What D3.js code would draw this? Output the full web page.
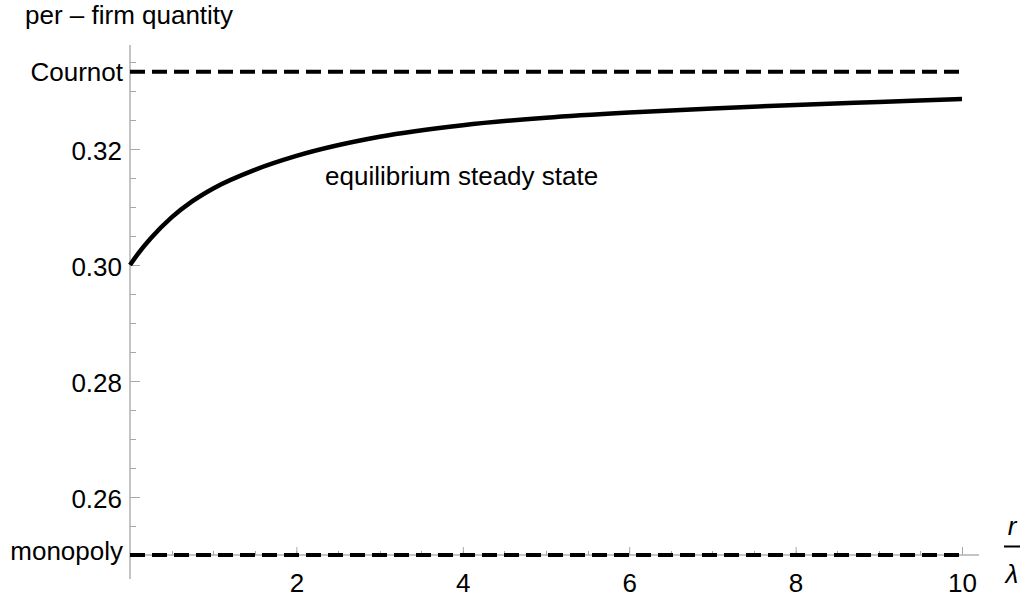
<!DOCTYPE html>
<html>
<head>
<meta charset="utf-8">
<script src="https://cdn.jsdelivr.net/npm/d3@7"></script>
<style>
  body { margin: 0; background: #fff; }
  svg { font-family: "Liberation Sans", Arial, sans-serif; }
</style>
</head>
<body>
<div id="chart"></div>
<script>
// values
const rOverLambda = [0, 0.1, 0.25, 0.5, 0.75, 1, 1.5, 2, 3, 4, 5, 6, 7, 8, 9, 10];
const steadyState = [0.3000, 0.3020, 0.3046, 0.3082, 0.3110, 0.3132, 0.3164, 0.3188, 0.3221, 0.3241, 0.3254, 0.3263, 0.3270, 0.3276, 0.3281, 0.3286];
const cournotLevel = 1 / 3;
const monopolyLevel = 0.25;
const yTickValues = [0.26, 0.28, 0.30, 0.32];
const xTickValues = [2, 4, 6, 8, 10];

const W = 1026, H = 601;
const svg = d3.select("#chart").append("svg")
  .attr("width", W).attr("height", H);

// scales: plot spans x 130..962 for 0..10, y 265 -> 0.30, 149 -> 0.32
const x = d3.scaleLinear().domain([0, 10]).range([130, 962]);
const y = d3.scaleLinear().domain([0.30, 0.32]).range([265, 149]);

const axisColor = "#8a8a8a";
const tickColor = "#a8a8a8";

// y axis line
svg.append("line")
  .attr("x1", x(0)).attr("x2", x(0))
  .attr("y1", 45).attr("y2", 579)
  .attr("stroke", axisColor).attr("stroke-width", 1);

// x axis line at monopoly level
svg.append("line")
  .attr("x1", x(0)).attr("x2", 979)
  .attr("y1", y(monopolyLevel)).attr("y2", y(monopolyLevel))
  .attr("stroke", axisColor).attr("stroke-width", 1);

// minor ticks
const yMinor = d3.range(0.25, 0.3376, 0.005);
svg.append("g").selectAll("line")
  .data(yMinor)
  .join("line")
  .attr("x1", x(0)).attr("x2", x(0) + 6)
  .attr("y1", d => Math.round(y(d)) + 0.5).attr("y2", d => Math.round(y(d)) + 0.5)
  .attr("stroke", tickColor);

const xMinor = d3.range(0.5, 10.01, 0.5);
svg.append("g").selectAll("line")
  .data(xMinor)
  .join("line")
  .attr("x1", d => Math.round(x(d)) + 0.5).attr("x2", d => Math.round(x(d)) + 0.5)
  .attr("y1", y(monopolyLevel)).attr("y2", y(monopolyLevel) - 4)
  .attr("stroke", tickColor);

// major axes
const yAxis = svg.append("g")
  .attr("transform", `translate(${x(0)},0)`)
  .call(d3.axisLeft(y).tickValues(yTickValues).tickSize(-10).tickPadding(8)
    .tickFormat(d3.format(".2f")));
yAxis.select(".domain").remove();
yAxis.selectAll(".tick line").attr("stroke", tickColor);
yAxis.selectAll(".tick text")
  .attr("font-size", 26).attr("font-family", "Liberation Sans, Arial, sans-serif")
  .attr("fill", "#000").attr("dy", "0.42em");

const xAxis = svg.append("g")
  .attr("transform", `translate(0,${y(monopolyLevel)})`)
  .call(d3.axisBottom(x).tickValues(xTickValues).tickSize(-8).tickPadding(19));
xAxis.select(".domain").remove();
xAxis.selectAll(".tick line").attr("stroke", tickColor);
xAxis.selectAll(".tick text")
  .attr("font-size", 26).attr("font-family", "Liberation Sans, Arial, sans-serif")
  .attr("fill", "#000");

// reference levels
const refs = [
  { name: "Cournot", value: cournotLevel, dy: "0.36em" },
  { name: "monopoly", value: monopolyLevel, dy: "0.2em" }
];
svg.append("g").selectAll("line")
  .data(refs)
  .join("line")
  .attr("x1", x(0)).attr("x2", x(10))
  .attr("y1", d => y(d.value)).attr("y2", d => y(d.value))
  .attr("stroke", "#000")
  .attr("stroke-width", 4)
  .attr("stroke-dasharray", "15 7");

svg.append("g").selectAll("text")
  .data(refs)
  .join("text")
  .attr("x", x(0) - 7)
  .attr("y", d => y(d.value))
  .attr("dy", d => d.dy)
  .attr("text-anchor", "end")
  .attr("font-size", 26)
  .text(d => d.name);

// steady state curve
const line = d3.line()
  .x((d, i) => x(rOverLambda[i]))
  .y(d => y(d))
  .curve(d3.curveMonotoneX);

svg.append("path")
  .datum(steadyState)
  .attr("d", line)
  .attr("fill", "none")
  .attr("stroke", "#000")
  .attr("stroke-width", 4.5)
  .attr("stroke-linecap", "butt");

svg.append("text")
  .attr("x", 325).attr("y", 185)
  .attr("font-size", 26)
  .text("equilibrium steady state");

// axis titles
svg.append("text")
  .attr("x", 25).attr("y", 24)
  .attr("font-size", 26)
  .text("per \u2013 firm quantity");

const xLabel = svg.append("g").attr("transform", "translate(1012,0)");
xLabel.append("text")
  .attr("y", 535).attr("text-anchor", "middle")
  .attr("font-size", 26).attr("font-style", "italic")
  .text("r");
xLabel.append("line")
  .attr("x1", -8).attr("x2", 8)
  .attr("y1", 546.5).attr("y2", 546.5)
  .attr("stroke", "#000").attr("stroke-width", 2);
xLabel.append("text")
  .attr("y", 583).attr("text-anchor", "middle")
  .attr("font-size", 26).attr("font-style", "italic")
  .text("\u03bb");
</script>
</body>
</html>
